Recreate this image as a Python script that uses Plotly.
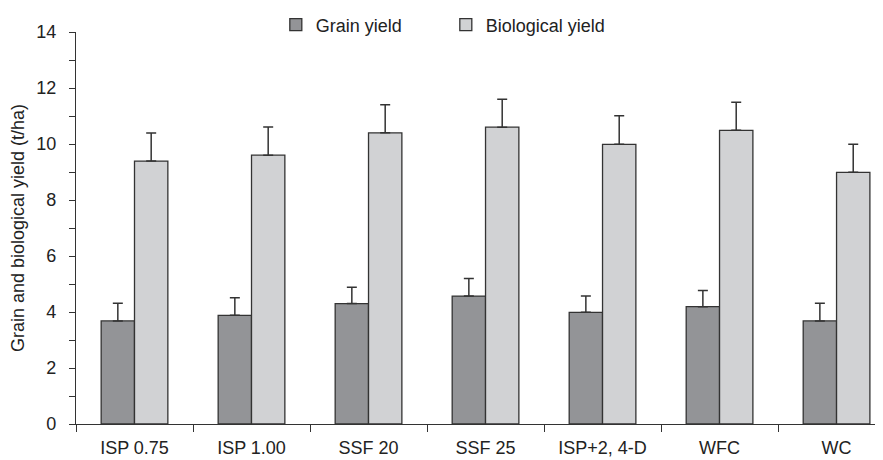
import plotly.graph_objects as go

categories = ["ISP 0.75", "ISP 1.00", "SSF 20", "SSF 25", "ISP+2, 4-D", "WFC", "WC"]
grain_yield = [3.68, 3.88, 4.30, 4.57, 3.99, 4.19, 3.68]
grain_err = [0.63, 0.63, 0.58, 0.63, 0.58, 0.58, 0.63]
bio_yield = [9.39, 9.60, 10.40, 10.60, 9.99, 10.49, 8.99]
bio_err = [1.00, 1.01, 1.00, 1.00, 1.02, 1.00, 1.00]
y_ticks = [0, 2, 4, 6, 8, 10, 12, 14]

line_col = "#333333"
font_fam = "Liberation Sans, Arial, sans-serif"

fig = go.Figure()
fig.add_trace(go.Bar(
    name="Grain yield", x=categories, y=grain_yield,
    marker=dict(color="#939497", line=dict(color=line_col, width=1.3)),
    error_y=dict(type="data", symmetric=False, array=grain_err,
                 arrayminus=[0] * len(grain_err), color=line_col,
                 thickness=1.5, width=5),
))
fig.add_trace(go.Bar(
    name="Biological yield", x=categories, y=bio_yield,
    marker=dict(color="#d1d2d4", line=dict(color=line_col, width=1.3)),
    error_y=dict(type="data", symmetric=False, array=bio_err,
                 arrayminus=[0] * len(bio_err), color=line_col,
                 thickness=1.5, width=5),
))

fig.update_layout(
    width=883, height=460,
    margin=dict(l=68, r=8, t=24, b=44, autoexpand=False),
    paper_bgcolor="white", plot_bgcolor="white",
    barmode="group", bargap=0.43, bargroupgap=0,
    font=dict(family=font_fam, size=18, color="#222222"),
    showlegend=True,
    legend=dict(orientation="h", x=0.2476, xanchor="left", y=1.018, yanchor="middle",
                font=dict(size=18, color="#222222"), entrywidth=125, entrywidthmode="pixels",
                bgcolor="rgba(0,0,0,0)"),
    xaxis=dict(
        type="category", range=[-0.5, 6.397], automargin=False,
        showline=True, linecolor=line_col, linewidth=1.3,
        ticks="outside", tickson="boundaries", ticklen=7, tickwidth=1.3, tickcolor=line_col,
        showgrid=False, zeroline=False,
        tickfont=dict(size=18), ticklabelstandoff=7,
    ),
    yaxis=dict(
        range=[0, 14], tickvals=y_ticks, automargin=False,
        showline=True, linecolor=line_col, linewidth=1.3,
        ticks="outside", ticklen=6, tickwidth=1.3, tickcolor=line_col,
        minor=dict(dtick=1, ticks="outside", ticklen=6, tickwidth=1.3, tickcolor=line_col, showgrid=False),
        showgrid=False, zeroline=False,
        tickfont=dict(size=18), ticklabelstandoff=9,
        title=dict(text="Grain and biological yield (t/ha)", font=dict(size=18), standoff=6),
    ),
)

fig.write_html("out.html")
